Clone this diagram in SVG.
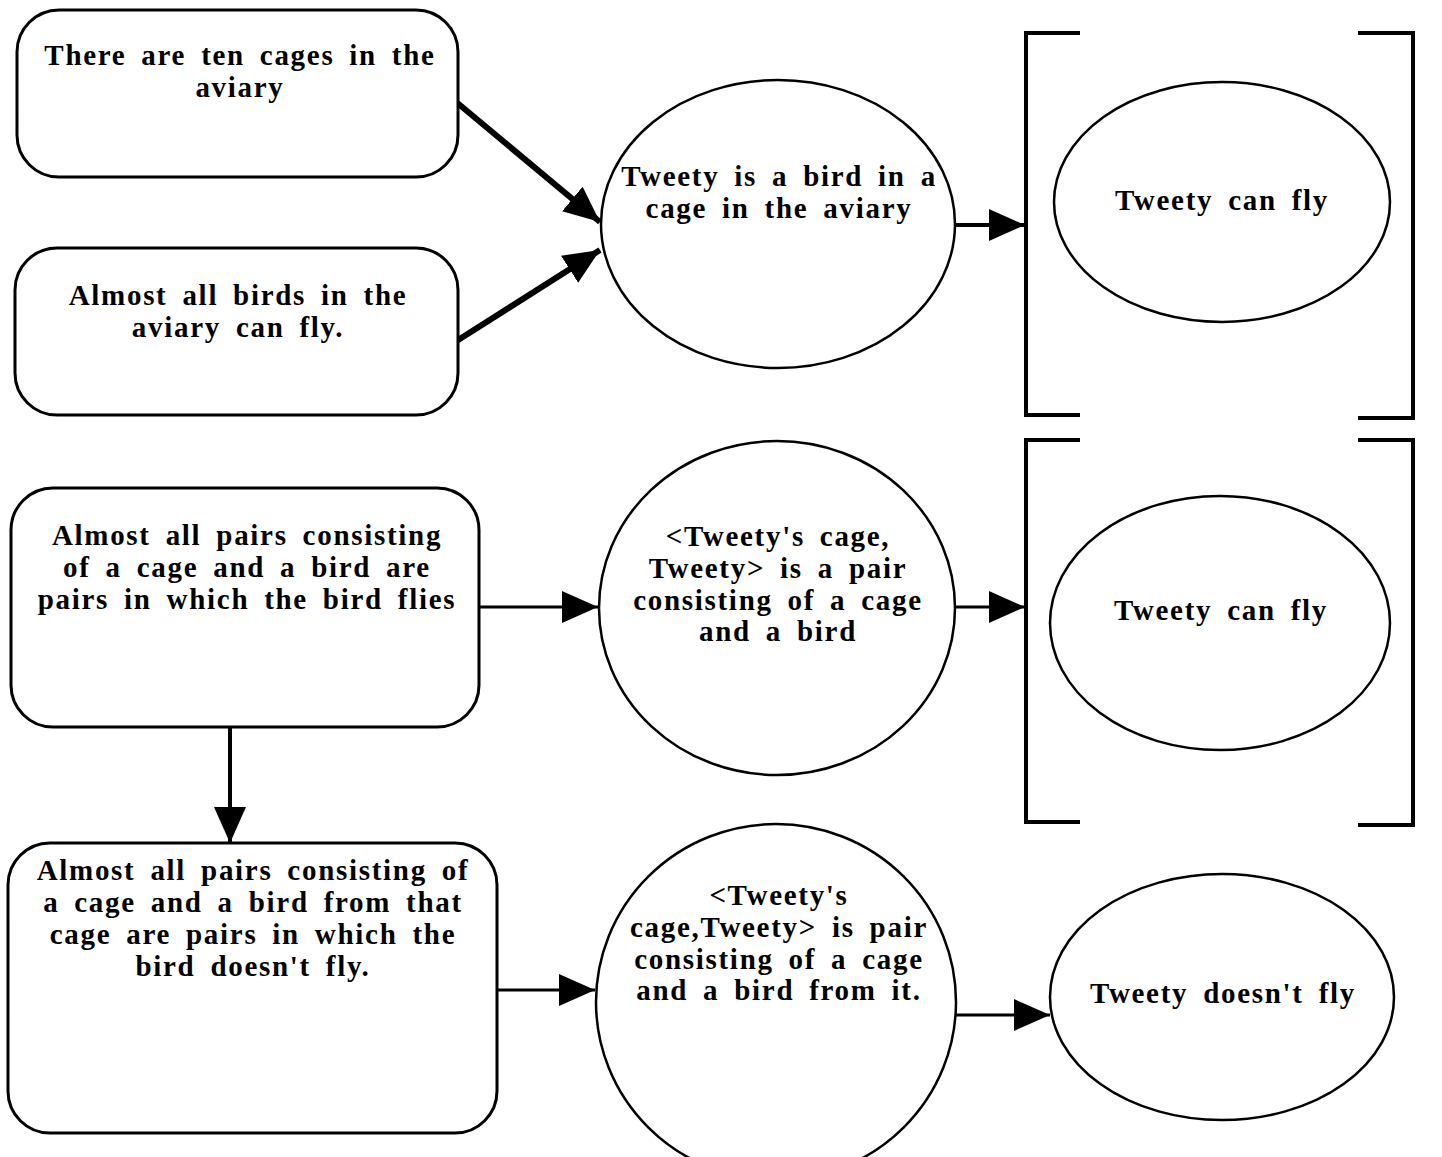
<svg xmlns="http://www.w3.org/2000/svg" width="1442" height="1157" viewBox="0 0 1442 1157">
<defs>
<style>
.box{fill:#fff;stroke:#000;stroke-width:3}
.shape{fill:#fff;stroke:#000;stroke-width:2.5}
.br{fill:none;stroke:#000;stroke-width:4}
.t{font-family:"Liberation Serif","Times New Roman",serif;font-weight:bold;font-size:29px;text-anchor:middle;fill:#000;letter-spacing:1.7px;word-spacing:6px}
.c{stroke:#000;fill:none}
</style>
<marker id="ah" markerUnits="userSpaceOnUse" markerWidth="40" markerHeight="36" refX="36" refY="16" orient="auto">
<path d="M0,0 L36,16 L0,32 Z" fill="#000"/>
</marker>
</defs>
<rect width="1442" height="1157" fill="#fff"/>
<g id="connectors">
<line class="c" x1="455" y1="101" x2="600" y2="222" stroke-width="6" marker-end="url(#ah)"/>
<line class="c" x1="455" y1="342" x2="600" y2="250" stroke-width="6" marker-end="url(#ah)"/>
<line class="c" x1="955" y1="225" x2="1025" y2="225" stroke-width="4" marker-end="url(#ah)"/>
<line class="c" x1="479" y1="607" x2="598" y2="607" stroke-width="3" marker-end="url(#ah)"/>
<line class="c" x1="955" y1="607" x2="1025" y2="607" stroke-width="3" marker-end="url(#ah)"/>
<line class="c" x1="230" y1="727" x2="230" y2="843" stroke-width="4" marker-end="url(#ah)"/>
<line class="c" x1="497" y1="990" x2="595" y2="990" stroke-width="3" marker-end="url(#ah)"/>
<line class="c" x1="955" y1="1015" x2="1050" y2="1015" stroke-width="3" marker-end="url(#ah)"/>
</g>
<g id="brackets">
<path class="br" d="M1080,33 H1026 V415 H1080"/>
<path class="br" d="M1358,33 H1413 V418 H1358"/>
<path class="br" d="M1080,440 H1026 V822 H1080"/>
<path class="br" d="M1358,440 H1413 V825 H1358"/>
</g>
<g id="n1">
<rect class="box" x="17" y="10" width="441" height="167" rx="42"/>
<text class="t" x="240" y="65">There are ten cages in the</text>
<text class="t" x="240" y="97">aviary</text>
</g>
<g id="n2">
<rect class="box" x="15" y="248" width="443" height="167" rx="42"/>
<text class="t" x="238" y="305">Almost all birds in the</text>
<text class="t" x="238" y="337">aviary can fly.</text>
</g>
<g id="n3">
<ellipse class="shape" cx="778" cy="224" rx="177" ry="144"/>
<text class="t" x="779" y="186">Tweety is a bird in a</text>
<text class="t" x="779" y="218">cage in the aviary</text>
</g>
<g id="n4">
<ellipse class="shape" cx="1222" cy="202" rx="168" ry="120"/>
<text class="t" x="1222" y="210">Tweety can fly</text>
</g>
<g id="n5">
<rect class="box" x="11" y="488" width="468" height="239" rx="42"/>
<text class="t" x="247" y="545">Almost all pairs consisting</text>
<text class="t" x="247" y="577">of a cage and a bird are</text>
<text class="t" x="247" y="609">pairs in which the bird flies</text>
</g>
<g id="n6">
<ellipse class="shape" cx="777" cy="608" rx="178" ry="167"/>
<text class="t" x="778" y="546">&lt;Tweety's cage,</text>
<text class="t" x="778" y="578">Tweety&gt; is a pair</text>
<text class="t" x="778" y="610">consisting of a cage</text>
<text class="t" x="778" y="641">and a bird</text>
</g>
<g id="n7">
<ellipse class="shape" cx="1220" cy="623" rx="170" ry="127"/>
<text class="t" x="1221" y="620">Tweety can fly</text>
</g>
<g id="n8">
<rect class="box" x="8" y="843" width="489" height="290" rx="42"/>
<text class="t" x="253" y="880">Almost all pairs consisting of</text>
<text class="t" x="253" y="912">a cage and a bird from that</text>
<text class="t" x="253" y="944">cage are pairs in which the</text>
<text class="t" x="253" y="976">bird doesn't fly.</text>
</g>
<g id="n9">
<ellipse class="shape" cx="776" cy="1002" rx="180" ry="178"/>
<text class="t" x="779" y="905">&lt;Tweety's</text>
<text class="t" x="779" y="937">cage,Tweety&gt; is pair</text>
<text class="t" x="779" y="969">consisting of a cage</text>
<text class="t" x="779" y="1000">and a bird from it.</text>
</g>
<g id="n10">
<ellipse class="shape" cx="1222" cy="997" rx="172" ry="123"/>
<text class="t" x="1223" y="1003">Tweety doesn't fly</text>
</g>
</svg>
